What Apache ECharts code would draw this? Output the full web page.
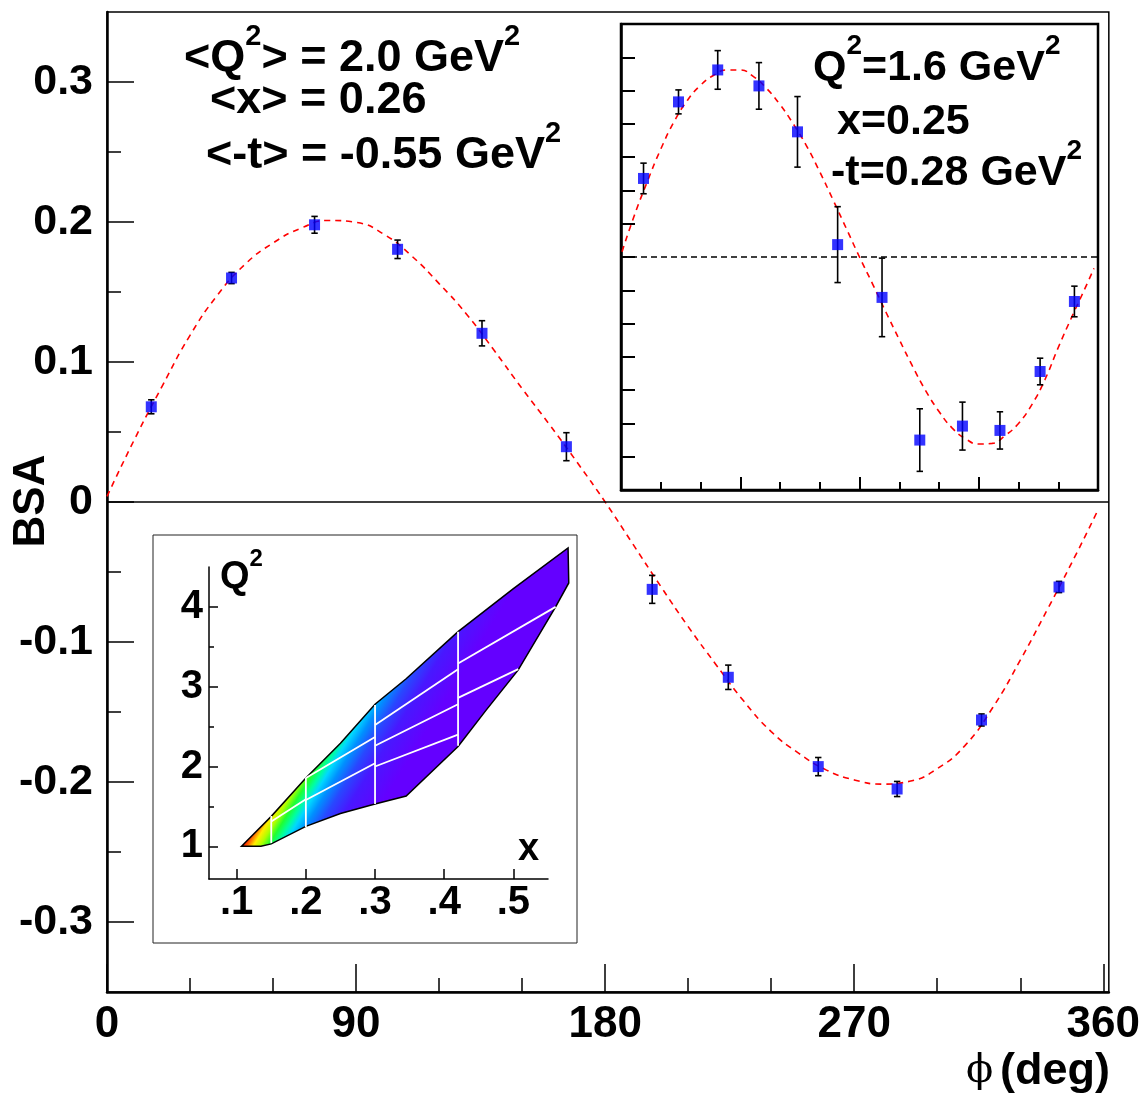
<!DOCTYPE html>
<html><head><meta charset="utf-8">
<script src="https://cdn.jsdelivr.net/npm/echarts@6/dist/echarts.min.js"></script>
<style>html,body{margin:0;padding:0;background:#fff}#c{width:1143px;height:1096px}</style>
</head><body><div id="c"></div>
<script>
// ---------- main panel ----------
const phiMain = [16, 45, 75, 105, 135.5, 166, 197, 224.5, 257, 285.5, 316, 344];
const bsaMain = [0.068, 0.160, 0.198, 0.1805, 0.1205, 0.0395, -0.0624, -0.1252, -0.189, -0.205, -0.1557, -0.0607];
const errMain = [0.005, 0.004, 0.006, 0.0066, 0.009, 0.010, 0.010, 0.0087, 0.0065, 0.0054, 0.0043, 0.004];
const fitPhiMain = [0, 10, 20, 30, 40, 50, 60, 70, 80, 90, 100, 110, 120, 130, 140, 150, 160, 170, 180, 190, 200, 210, 220, 230, 240, 250, 260, 270, 280, 290, 300, 310, 320, 330, 340, 350, 358];
const fitMain = [0.004, 0.045, 0.083, 0.119, 0.148, 0.170, 0.185, 0.1955, 0.2011, 0.1997, 0.1913, 0.1759, 0.156, 0.134, 0.108, 0.081, 0.055, 0.028, 0.000, -0.030, -0.060, -0.089, -0.116, -0.142, -0.164, -0.1795, -0.1915, -0.1985, -0.2015, -0.1995, -0.1905, -0.174, -0.147, -0.113, -0.076, -0.038, -0.006];
const mainXLabels = [0, 90, 180, 270, 360];
const mainXMinor = [30, 60, 120, 150, 210, 240, 300, 330];
const mainYLabels = [-0.3, -0.2, -0.1, 0, 0.1, 0.2, 0.3];
const mainYMinor = [-0.25, -0.15, -0.05, 0.05, 0.15, 0.25];

// ---------- top-right inset ----------
const phiInset = [17, 43.4, 73, 104.1, 133.2, 163.5, 197, 225.5, 257.7, 286, 316.3, 342.2];
const bsaInset = [0.118, 0.233, 0.281, 0.257, 0.188, 0.0186, -0.0607, -0.275, -0.254, -0.2605, -0.172, -0.0668];
const errInset = [0.023, 0.018, 0.029, 0.035, 0.053, 0.057, 0.059, 0.047, 0.036, 0.028, 0.020, 0.023];
const fitPhiInset = [0.8, 10, 20, 30, 40, 50, 60, 70, 80, 90, 100, 110, 120, 130, 140, 150, 160, 170, 180, 190, 200, 210, 220, 230, 240, 250, 260, 270, 280, 290, 300, 310, 320, 330, 340, 350, 357];
const fitInset = [0.008, 0.062, 0.114, 0.162, 0.203, 0.235, 0.258, 0.273, 0.281, 0.281, 0.271, 0.253, 0.229, 0.200, 0.167, 0.128, 0.086, 0.043, 0.000, -0.041, -0.083, -0.124, -0.164, -0.201, -0.232, -0.257, -0.273, -0.281, -0.280, -0.268, -0.250, -0.222, -0.184, -0.136, -0.091, -0.048, -0.017];
const insetXMajor = [90, 180, 270];
const insetXMinor = [30, 60, 120, 150, 210, 240, 300, 330];
const insetYTicks = [-0.3, -0.25, -0.2, -0.15, -0.1, -0.05, 0, 0.05, 0.1, 0.15, 0.2, 0.25, 0.3];

// ---------- bottom-left inset (Q2 vs x coverage) ----------
const polyX  = [0.107, 0.15, 0.2, 0.25, 0.3, 0.345, 0.42, 0.5, 0.579, 0.58, 0.561, 0.507, 0.46, 0.42, 0.345, 0.3, 0.25, 0.2, 0.15, 0.135];
const polyQ2 = [1.0, 1.375, 1.855, 2.29, 2.78, 3.1, 3.69, 4.23, 4.74, 4.30, 4.0, 3.21, 2.7, 2.25, 1.63, 1.53, 1.41, 1.25, 1.03, 1.0];
const binSegX1 = [0.15, 0.2, 0.3, 0.42, 0.15, 0.2, 0.2, 0.3, 0.3, 0.3, 0.42, 0.42];
const binSegQ1 = [1.04, 1.24, 1.53, 2.26, 1.31, 1.58, 1.855, 2.0, 2.26, 2.52, 2.86, 3.29];
const binSegX2 = [0.15, 0.2, 0.3, 0.42, 0.2, 0.3, 0.3, 0.42, 0.42, 0.42, 0.507, 0.561];
const binSegQ2 = [1.38, 1.86, 2.77, 3.69, 1.59, 2.04, 2.37, 2.40, 2.78, 3.22, 3.22, 4.0];
const kinXLabels = [0.1, 0.2, 0.3, 0.4, 0.5];
const kinYLabels = [1, 2, 3, 4];
const kinYMinor = [1.5, 2.5, 3.5];

const FONT = '"Liberation Sans", Arial, Helvetica, sans-serif';

function errRender(params, api) {
  const x = api.value(0), y = api.value(1), e = api.value(2);
  const t = api.coord([x, y + e]), b = api.coord([x, y - e]);
  const cw = 3.2, st = {stroke: '#000', lineWidth: 1.6};
  return {type: 'group', children: [
    {type: 'line', shape: {x1: t[0], y1: t[1], x2: b[0], y2: b[1]}, style: st},
    {type: 'line', shape: {x1: t[0] - cw, y1: t[1], x2: t[0] + cw, y2: t[1]}, style: st},
    {type: 'line', shape: {x1: b[0] - cw, y1: b[1], x2: b[0] + cw, y2: b[1]}, style: st}
  ]};
}

function hiddenAxis(extra) {
  return Object.assign({type: 'value', splitLine: {show: false},
    axisLine: {show: false, onZero: false}, axisLabel: {show: false}}, extra);
}

const labelStyle = {color: '#000', fontFamily: FONT, fontWeight: 'bold', fontSize: 42};

const option = {
  animation: false,
  backgroundColor: '#fff',
  grid: [
    {left: 107, right: 33, top: 12, bottom: 104, show: true, borderColor: '#000', borderWidth: 1.5, backgroundColor: 'transparent'},
    {left: 621, right: 45, top: 24, bottom: 606, show: true, borderColor: '#000', borderWidth: 2.5, backgroundColor: '#fff'},
    {left: 209, right: 595, top: 567, bottom: 217, show: false}
  ],
  xAxis: [
    {type: 'value', gridIndex: 0, min: 0, max: 362, position: 'bottom', splitLine: {show: false},
      axisLine: {show: true, onZero: false, lineStyle: {color: '#000', width: 2.5}},
      axisTick: {show: true, inside: true, length: 28, customValues: mainXLabels, lineStyle: {color: '#000', width: 1.5}},
      axisLabel: Object.assign({show: true, margin: 11, customValues: mainXLabels, formatter: v => String(v)}, labelStyle, {fontSize: 44})},
    hiddenAxis({gridIndex: 0, min: 0, max: 362, position: 'bottom',
      axisTick: {show: true, inside: true, length: 14, customValues: mainXMinor, lineStyle: {color: '#000', width: 1.5}}}),
    {type: 'value', gridIndex: 1, min: 0, max: 360, position: 'bottom', splitLine: {show: false},
      axisLine: {show: true, onZero: false, lineStyle: {color: '#000', width: 2.5}},
      axisTick: {show: true, inside: true, length: 13, customValues: insetXMajor, lineStyle: {color: '#000', width: 2}},
      axisLabel: {show: false}},
    hiddenAxis({gridIndex: 1, min: 0, max: 360, position: 'bottom',
      axisTick: {show: true, inside: true, length: 8, customValues: insetXMinor, lineStyle: {color: '#000', width: 2}}}),
    {type: 'value', gridIndex: 2, min: 0.06, max: 0.55, position: 'bottom', splitLine: {show: false},
      axisLine: {show: true, onZero: false, lineStyle: {color: '#000', width: 1.5}},
      axisTick: {show: true, inside: true, length: 10, customValues: kinXLabels, lineStyle: {color: '#000', width: 1.5}},
      axisLabel: Object.assign({show: true, margin: 4, customValues: kinXLabels, formatter: v => '.' + Math.round(v * 10)}, labelStyle, {fontSize: 40})}
  ],
  yAxis: [
    {type: 'value', gridIndex: 0, min: -0.35, max: 0.35, position: 'left', splitLine: {show: false},
      axisLine: {show: true, onZero: false, lineStyle: {color: '#000', width: 2.5}},
      axisTick: {show: true, inside: true, length: 27, customValues: mainYLabels, lineStyle: {color: '#000', width: 1.5}},
      axisLabel: Object.assign({show: true, margin: 14, customValues: mainYLabels, formatter: v => String(Math.round(v * 10) / 10)}, labelStyle, {fontSize: 43})},
    hiddenAxis({gridIndex: 0, min: -0.35, max: 0.35, position: 'left',
      axisTick: {show: true, inside: true, length: 14, customValues: mainYMinor, lineStyle: {color: '#000', width: 1.5}}}),
    {type: 'value', gridIndex: 1, min: -0.35, max: 0.35, position: 'left', splitLine: {show: false},
      axisLine: {show: true, onZero: false, lineStyle: {color: '#000', width: 2.5}},
      axisTick: {show: true, inside: true, length: 14, customValues: insetYTicks, lineStyle: {color: '#000', width: 2}},
      axisLabel: {show: false}},
    {type: 'value', gridIndex: 2, min: 0.59, max: 4.5, position: 'left', splitLine: {show: false},
      axisLine: {show: true, onZero: false, lineStyle: {color: '#000', width: 1.5}},
      axisTick: {show: true, inside: true, length: 9, customValues: kinYLabels, lineStyle: {color: '#000', width: 1.5}},
      axisLabel: Object.assign({show: true, margin: 6, customValues: kinYLabels, formatter: v => String(v)}, labelStyle, {fontSize: 40})},
    hiddenAxis({gridIndex: 2, min: 0.59, max: 4.5, position: 'left',
      axisTick: {show: true, inside: true, length: 5, customValues: kinYMinor, lineStyle: {color: '#000', width: 1.5}}})
  ],
  series: [
    // main fit + zero line
    {type: 'line', xAxisIndex: 0, yAxisIndex: 0, smooth: true, showSymbol: false, z: 2,
      data: fitPhiMain.map((p, i) => [p, fitMain[i]]),
      lineStyle: {color: '#ff0000', width: 1.6, type: [6, 5]},
      markLine: {silent: true, symbol: 'none', label: {show: false},
        lineStyle: {color: '#000', width: 1.5, type: 'solid'}, data: [{yAxis: 0}]}},
    {type: 'custom', xAxisIndex: 0, yAxisIndex: 0, z: 3, renderItem: errRender,
      data: phiMain.map((p, i) => [p, bsaMain[i], errMain[i]])},
    {type: 'scatter', xAxisIndex: 0, yAxisIndex: 0, z: 4, symbol: 'rect', symbolSize: 11,
      itemStyle: {color: '#0000ff'}, data: phiMain.map((p, i) => [p, bsaMain[i]])},
    // top-right inset
    {type: 'line', xAxisIndex: 2, yAxisIndex: 2, smooth: true, showSymbol: false, z: 2,
      data: fitPhiInset.map((p, i) => [p, fitInset[i]]),
      lineStyle: {color: '#ff0000', width: 1.6, type: [6, 5]},
      markLine: {silent: true, symbol: 'none', label: {show: false},
        lineStyle: {color: '#000', width: 1.5, type: [6, 4]}, data: [{yAxis: 0}]}},
    {type: 'custom', xAxisIndex: 2, yAxisIndex: 2, z: 3, renderItem: errRender,
      data: phiInset.map((p, i) => [p, bsaInset[i], errInset[i]])},
    {type: 'scatter', xAxisIndex: 2, yAxisIndex: 2, z: 4, symbol: 'rect', symbolSize: 11,
      itemStyle: {color: '#0000ff'}, data: phiInset.map((p, i) => [p, bsaInset[i]])},
    // bottom-left coverage polygon
    {type: 'custom', xAxisIndex: 4, yAxisIndex: 3, z: 2, clip: false,
      data: [[polyX[0], polyQ2[0]]],
      renderItem: (params, api) => {
        const pts = polyX.map((x, i) => api.coord([x, polyQ2[i]]));
        const tip = pts[0];
        const grad = new echarts.graphic.LinearGradient(tip[0], tip[1], tip[0] + 83, tip[1] + 51, [
          {offset: 0, color: '#ff0000'}, {offset: 0.05, color: '#ff7000'}, {offset: 0.1, color: '#ffee00'},
          {offset: 0.16, color: '#b0ff00'}, {offset: 0.23, color: '#20ff30'}, {offset: 0.3, color: '#00ffa0'},
          {offset: 0.36, color: '#00d8ff'}, {offset: 0.45, color: '#0090ff'}, {offset: 0.57, color: '#2848ff'},
          {offset: 0.72, color: '#4818ff'}, {offset: 1, color: '#6400ff'}], true);
        return {type: 'polygon', shape: {points: pts}, style: {fill: grad, stroke: '#000', lineWidth: 1.5}};
      }},
    {type: 'custom', xAxisIndex: 4, yAxisIndex: 3, z: 3, clip: false,
      data: binSegX1.map((x, i) => [x, binSegQ1[i], binSegX2[i], binSegQ2[i]]),
      renderItem: (params, api) => {
        const a = api.coord([api.value(0), api.value(1)]), b = api.coord([api.value(2), api.value(3)]);
        return {type: 'line', shape: {x1: a[0], y1: a[1], x2: b[0], y2: b[1]}, style: {stroke: '#fff', lineWidth: 1.8}};
      }}
  ],
  graphic: [
    {type: 'rect', shape: {x: 153, y: 535, width: 424, height: 408}, style: {fill: 'none', stroke: '#222', lineWidth: 1}, z: 1},
    {type: 'text', x: 32, y: 501, rotation: Math.PI / 2,
      style: {text: 'BSA', fill: '#000', font: 'bold 44px ' + FONT, align: 'center', verticalAlign: 'middle'}},
    {type: 'text', x: 1110, y: 1072,
      style: {text: '{p|ϕ}  {d|(deg)}', align: 'right', verticalAlign: 'middle',
        rich: {p: {fontFamily: '"DejaVu Serif"', fontSize: 40, fontWeight: 'normal', fill: '#000'},
               d: {fontFamily: FONT, fontSize: 45, fontWeight: 'bold', fill: '#000'}}}},
    // main annotations
    ...[
      {x: 184, y: 52, t: '{n|<Q}{s|2}{n|> = 2.0 GeV}{s|2}'},
      {x: 210, y: 94, t: '{n|<x> = 0.26}'},
      {x: 206, y: 149, t: '{n|<-t> = -0.55 GeV}{s|2}'}
    ].map(o => ({type: 'text', x: o.x, y: o.y, z: 10,
      style: {text: o.t, align: 'left', verticalAlign: 'middle',
        rich: {n: {fontFamily: FONT, fontSize: 45, fontWeight: 'bold', lineHeight: 59, verticalAlign: 'bottom', fill: '#000'},
               s: {fontFamily: FONT, fontSize: 29, fontWeight: 'bold', verticalAlign: 'top', fill: '#000'}}}})),
    // inset annotations
    ...[
      {x: 813, y: 61, t: '{n|Q}{s|2}{n|=1.6 GeV}{s|2}'},
      {x: 837, y: 115, t: '{n|x=0.25}'},
      {x: 831, y: 166, t: '{n|-t=0.28 GeV}{s|2}'}
    ].map(o => ({type: 'text', x: o.x, y: o.y, z: 10,
      style: {text: o.t, align: 'left', verticalAlign: 'middle',
        rich: {n: {fontFamily: FONT, fontSize: 43, fontWeight: 'bold', lineHeight: 57, verticalAlign: 'bottom', fill: '#000'},
               s: {fontFamily: FONT, fontSize: 28, fontWeight: 'bold', verticalAlign: 'top', fill: '#000'}}}})),
    // coverage inset axis titles
    {type: 'text', x: 220, y: 572, z: 10,
      style: {text: '{n|Q}{s|2}', align: 'left', verticalAlign: 'middle',
        rich: {n: {fontFamily: FONT, fontSize: 38, fontWeight: 'bold', lineHeight: 50, verticalAlign: 'bottom', fill: '#000'},
               s: {fontFamily: FONT, fontSize: 24, fontWeight: 'bold', verticalAlign: 'top', fill: '#000'}}}},
    {type: 'text', x: 518, y: 850, z: 10,
      style: {text: 'x', fill: '#000', font: 'bold 38px ' + FONT, align: 'left', verticalAlign: 'middle'}}
  ]
};
const chart = echarts.init(document.getElementById('c'));
chart.setOption(option);
</script>
</body></html>
